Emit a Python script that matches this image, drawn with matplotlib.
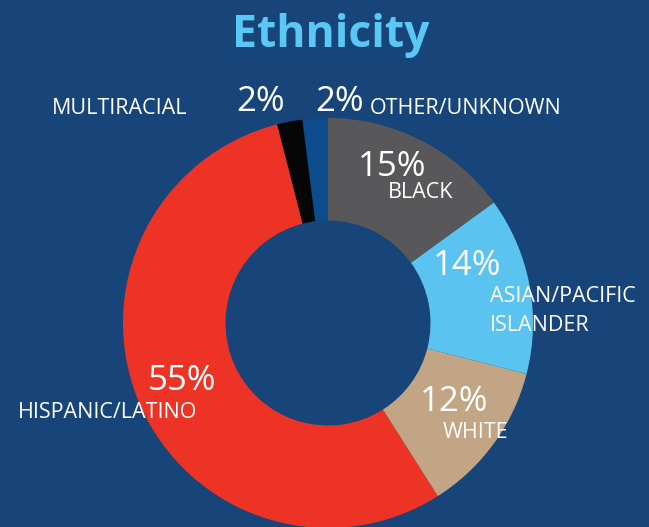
import matplotlib.pyplot as plt

# ethnicity breakdown, in drawing order (counter-clockwise from 12 o'clock)
groups = ["OTHER/UNKNOWN", "MULTIRACIAL", "HISPANIC/LATINO", "WHITE",
          "ASIAN/PACIFIC\nISLANDER", "BLACK"]
shares = [2, 2, 55, 12, 14, 15]
colors = ["#0c4c8c", "#060606", "#ec3326", "#c2a584", "#5bc3f0", "#58585b"]

# label placement in pixels (x, y of left/top of percent, label)
pct_pos = [(315, 102), (236, 102), (148, 381), (420, 402), (433, 266), (358, 167)]
lab_pos = [(370, 108), (52, 108), (18, 412), (443, 433), (490, 311), (388, 193)]

BG = "#174579"
W, H = 649, 527
cx, cy, R = 328, 323, 205

fig = plt.figure(figsize=(W / 100, H / 100), dpi=100, facecolor=BG)
ax = fig.add_axes([0, 0, 1, 1])
ax.set_facecolor(BG)

ax.pie(shares, colors=colors, startangle=90, counterclock=True, radius=1,
       wedgeprops=dict(width=0.5, linewidth=0))

ax.set_xlim(-cx / R, (W - cx) / R)
ax.set_ylim(-(H - cy) / R, cy / R)
ax.set_aspect("equal")
ax.axis("off")

fig.text(331 / W, 1 - 36 / H, "Ethnicity", color="#5ac7f4", fontsize=32,
         fontweight="bold", family="Open Sans", ha="center", va="center")

for s, (px, py), lab, (lx, ly) in zip(shares, pct_pos, groups, lab_pos):
    fig.text(px / W, 1 - py / H, f"{s}%", color="white", fontsize=25,
             family="Open Sans", ha="left", va="center")
    fig.text(lx / W, 1 - ly / H, lab, color="white", fontsize=15.5,
             family="Open Sans", ha="left", va="center", linespacing=1.5)

fig.savefig("out.png", dpi=100, facecolor=BG)
